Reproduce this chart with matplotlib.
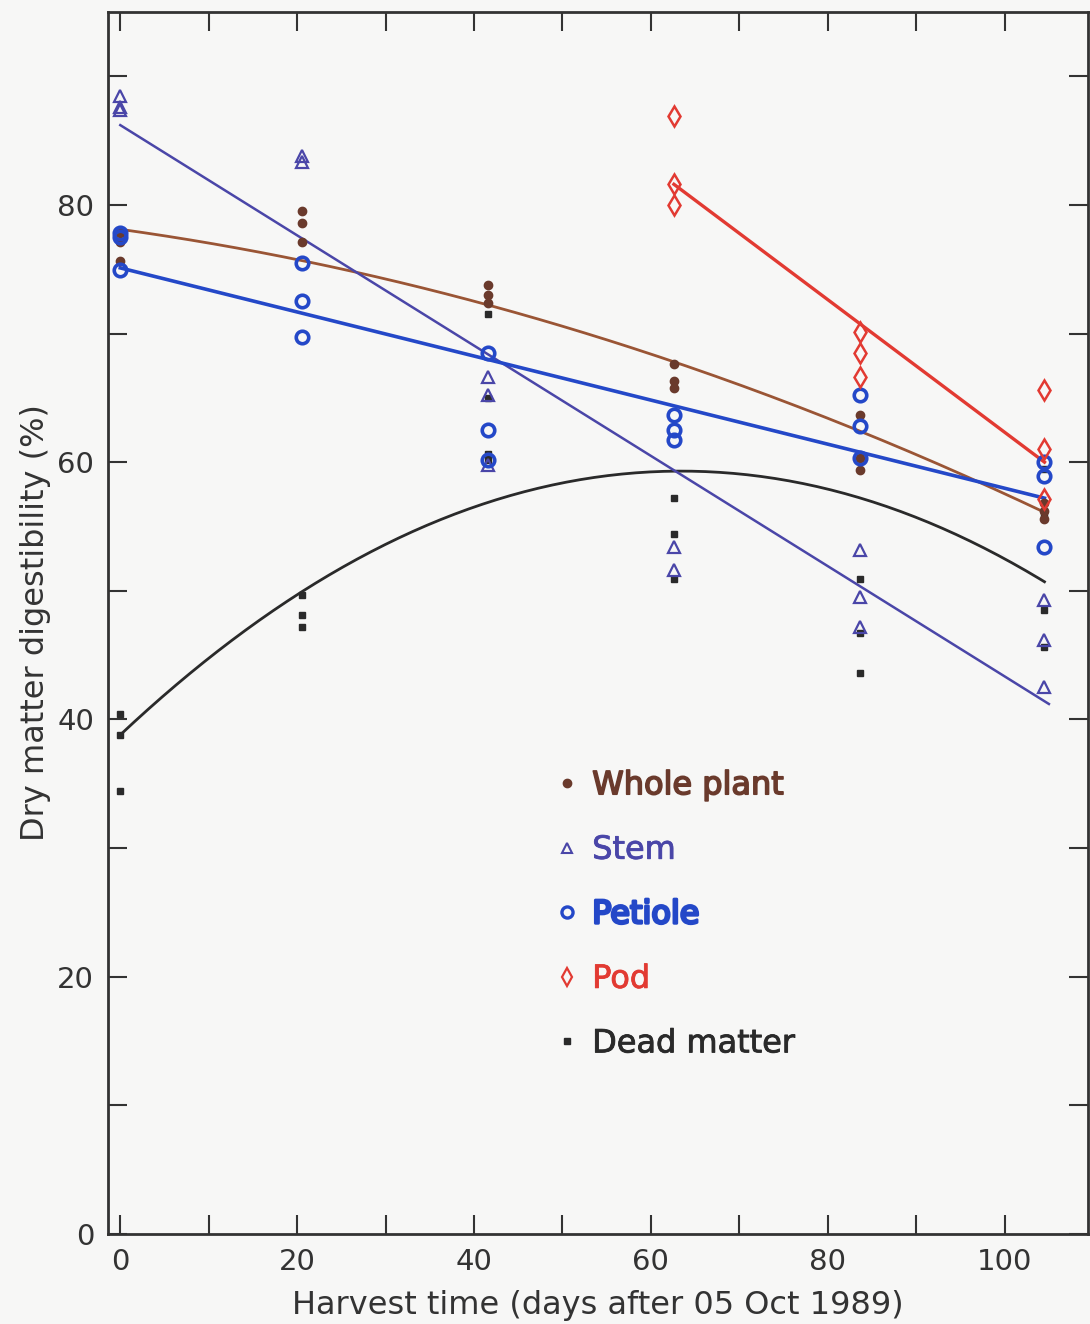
import numpy as np
import matplotlib.pyplot as plt
import matplotlib.patheffects as pe
from matplotlib.lines import Line2D

# harvest positions on the x axis (days after 05 Oct 1989)
d0, d1, d2, d3, d4, d5 = 0, 20.6, 41.6, 62.6, 83.6, 104.5

# observed points (harvest day, digestibility %)
whole_x = [d0, d0, d0, d1, d1, d1, d2, d2, d2, d3, d3, d3, d4, d4, d4, d5, d5, d5]
whole_y = [77.8, 77.1, 75.6, 79.5, 78.6, 77.1, 73.8, 73.0, 72.4, 67.6, 66.3, 65.8,
           63.7, 60.3, 59.4, 56.8, 56.2, 55.6]

stem_x = [d0, d0, d0, d1, d1, d2, d2, d2, d3, d3, d4, d4, d4, d5, d5, d5]
stem_y = [88.5, 87.6, 87.4, 83.8, 83.3, 66.6, 65.2, 59.8, 53.4, 51.6,
          53.2, 49.5, 47.2, 49.3, 46.2, 42.5]

pet_x = [d0, d0, d0, d1, d1, d1, d2, d2, d2, d3, d3, d3, d4, d4, d4, d5, d5, d5]
pet_y = [77.8, 77.5, 74.9, 75.5, 72.5, 69.7, 68.5, 62.5, 60.2, 63.7, 62.5, 61.7,
         65.2, 62.8, 60.3, 60.0, 58.9, 53.4]

pod_x = [d3, d3, d3, d4, d4, d4, d5, d5, d5]
pod_y = [86.9, 81.6, 80.0, 70.1, 68.5, 66.6, 65.6, 61.0, 57.1]

dead_x = [d0, d0, d0, d1, d1, d1, d2, d2, d2, d2, d3, d3, d3, d4, d4, d4, d4, d5, d5, d5, d5]
dead_y = [40.4, 38.8, 34.4, 49.7, 48.1, 47.2, 71.5, 65.0, 60.6, 60.2, 57.2, 54.4, 50.9,
          60.3, 50.9, 46.7, 43.6, 59.5, 48.5, 45.6, 56.0]

# fitted curves, values
stem_fit_x, stem_fit_y = [0, 105], [86.2, 41.2]
pet_fit_x, pet_fit_y = [0, 104.5], [75.1, 57.2]
pod_fit_x, pod_fit_y = [62.6, 104.5], [81.6, 60.0]
whole_fit_x, whole_fit_y = [0, 62.6, 104.5], [78.1, 67.8, 56.1]
dead_fit_x, dead_fit_y = [0, 62.6, 104.5], [38.8, 59.3, 50.7]

c_whole = '#6a3a2c'
c_whole_line = '#9a5535'
c_stem = '#4a46a8'
c_pet = '#2448c8'
c_pod = '#e23a32'
c_dead = '#2a2a2a'
bg = '#f7f7f6'

fig = plt.figure(figsize=(10.9, 13.24), dpi=100, facecolor=bg)
ax = fig.add_axes([0.099, 0.068, 0.899, 0.923], facecolor=bg)

# fitted lines
xx = np.linspace(0, 104.5, 200)
ax.plot(xx, np.polyval(np.polyfit(whole_fit_x, whole_fit_y, 2), xx), color=c_whole_line, lw=2)
ax.plot(xx, np.polyval(np.polyfit(dead_fit_x, dead_fit_y, 2), xx), color=c_dead, lw=2)
ax.plot(stem_fit_x, stem_fit_y, color=c_stem, lw=1.8)
ax.plot(pet_fit_x, pet_fit_y, color=c_pet, lw=2.6)
ax.plot(pod_fit_x, pod_fit_y, color=c_pod, lw=2.4)

# points
ax.plot(dead_x, dead_y, 's', ms=5, color=c_dead, ls='none')
ax.plot(whole_x, whole_y, 'o', ms=6, color=c_whole, ls='none')
ax.plot(stem_x, stem_y, '^', ms=8, mfc='none', mec=c_stem, mew=1.6, ls='none')
ax.plot(pet_x, pet_y, 'o', ms=9, mfc='none', mec=c_pet, mew=2.6, ls='none')
ax.plot(pod_x, pod_y, 'd', ms=10, mfc='none', mec=c_pod, mew=1.8, ls='none')

ax.set_xlim(-1.4, 109.4)
ax.set_ylim(0, 95)
ax.set_xticks([0, 20, 40, 60, 80, 100])
ax.set_xticks(np.arange(10, 110, 20), minor=True)
ax.set_yticks([0, 20, 40, 60, 80])
ax.set_yticks([10, 30, 50, 70, 90], minor=True)
ax.tick_params(which='both', direction='in', top=True, right=True, width=1.5,
               colors='#333333', labelsize=21, pad=10)
ax.tick_params(which='both', length=14)
for s in ax.spines.values():
    s.set_linewidth(2)
    s.set_color('#333333')

ax.set_xlabel('Harvest time (days after 05 Oct 1989)', fontsize=23, color='#333333', labelpad=10)
ax.set_ylabel('Dry matter digestibility (%)', fontsize=23, color='#333333', labelpad=4)

handles = [
    Line2D([], [], marker='o', ms=6, color=c_whole, ls='none'),
    Line2D([], [], marker='^', ms=7, mfc='none', mec=c_stem, mew=1.5, ls='none'),
    Line2D([], [], marker='o', ms=8, mfc='none', mec=c_pet, mew=2.4, ls='none'),
    Line2D([], [], marker='d', ms=9, mfc='none', mec=c_pod, mew=1.6, ls='none'),
    Line2D([], [], marker='s', ms=5, color=c_dead, ls='none'),
]
labels = ['Whole plant', 'Stem', 'Petiole', 'Pod', 'Dead matter']
leg = ax.legend(handles, labels, loc='upper left', bbox_to_anchor=(0.4225, 0.403),
                frameon=False, fontsize=23, labelspacing=1.05, handletextpad=0.3,
                handlelength=1.0)
for t, c, sw in zip(leg.get_texts(), [c_whole, c_stem, c_pet, c_pod, c_dead],
                    [1.2, 0.6, 2.0, 0.6, 0.6]):
    t.set_color(c)
    t.set_path_effects([pe.withStroke(linewidth=sw, foreground=c)])

fig.savefig('out.png', dpi=100, facecolor=bg)
